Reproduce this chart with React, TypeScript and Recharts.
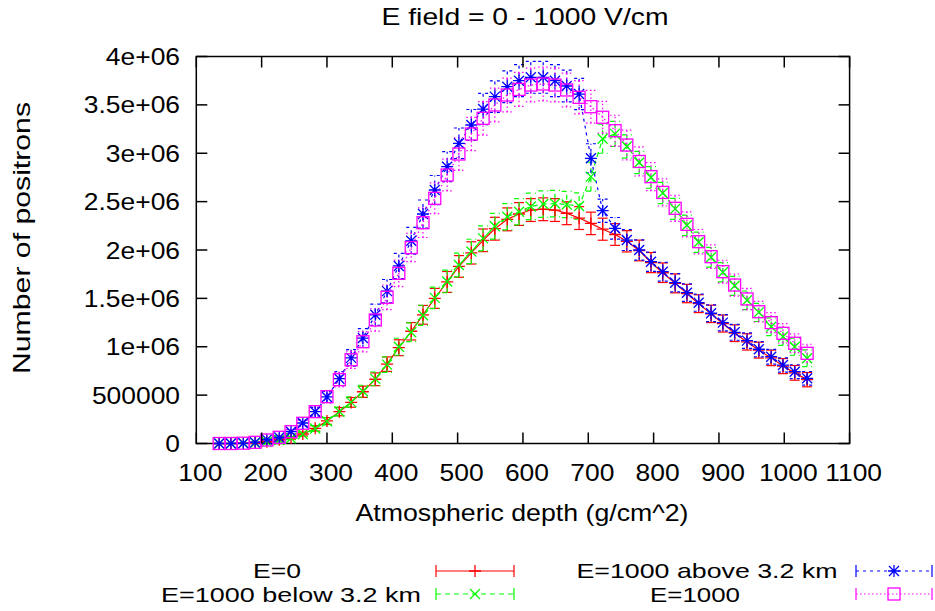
import React from "react";
import { LineChart, Line, XAxis, YAxis, ErrorBar, ReferenceArea } from "recharts";

// ── data ──
const depth = [
  135, 153, 172, 190, 208, 227, 245, 263, 282, 300,
  319, 337, 355, 374, 392, 410, 429, 447, 465, 484,
  502, 521, 539, 557, 576, 594, 612, 631, 649, 667,
  686, 704, 722, 741, 759, 778, 796, 814, 833, 851,
  869, 888, 906, 924, 943, 961, 980, 998, 1016, 1035,
];

const e0 = [
  0, 0, 2000, 6000, 18000, 38000, 58000, 98000, 157000, 233000,
  329000, 425000, 535000, 664000, 820000, 990000, 1160000, 1330000, 1500000, 1670000,
  1830000, 1970000, 2100000, 2220000, 2317000, 2372000, 2413000, 2421000, 2413000, 2380000,
  2330000, 2275000, 2215000, 2160000, 2090000, 1995000, 1870000, 1765000, 1655000, 1550000,
  1445000, 1340000, 1240000, 1140000, 1050000, 965000, 885000, 800000, 730000, 660000,
];
const e0Err = [
  0, 0, 1000, 3000, 6000, 10000, 14000, 20000, 28000, 35000,
  42000, 50000, 58000, 66000, 75000, 82000, 90000, 97000, 103000, 108000,
  112000, 115000, 117000, 118000, 118000, 118000, 118000, 118000, 118000, 118000,
  118000, 116000, 114000, 112000, 110000, 107000, 104000, 101000, 98000, 95000,
  92000, 90000, 88000, 86000, 84000, 82000, 80000, 78000, 76000, 74000,
];

const below = [
  0, 0, 2000, 6000, 17000, 36000, 55000, 95000, 155000, 230000,
  330000, 428000, 540000, 668000, 815000, 1000000, 1150000, 1325000, 1505000, 1675000,
  1845000, 1985000, 2120000, 2245000, 2344000, 2396000, 2450000, 2475000, 2480000, 2470000,
  2455000, 2758000, 3150000, 3200000, 3070000, 2905000, 2750000, 2590000, 2425000, 2255000,
  2080000, 1925000, 1770000, 1630000, 1480000, 1355000, 1207000, 1104000, 1000000, 881000,
];
const belowErr = [
  0, 0, 1000, 3000, 6000, 10000, 15000, 21000, 29000, 37000,
  45000, 53000, 62000, 71000, 80000, 88000, 96000, 104000, 111000, 117000,
  122000, 126000, 130000, 133000, 135000, 136000, 137000, 137000, 137000, 136000,
  135000, 150000, 150000, 130000, 120000, 115000, 112000, 110000, 108000, 106000,
  104000, 102000, 100000, 98000, 96000, 94000, 92000, 90000, 88000, 86000,
];

const above = [
  0, 0, 2000, 12000, 40000, 62000, 122000, 212000, 329000, 481000,
  670000, 885000, 1090000, 1330000, 1575000, 1835000, 2095000, 2372000, 2620000, 2861000,
  3103000, 3292000, 3457000, 3585000, 3688000, 3750000, 3785000, 3785000, 3750000, 3695000,
  3612000, 2948000, 2406000, 2224000, 2103000, 2000000, 1879000, 1776000, 1662000, 1559000,
  1455000, 1346000, 1249000, 1149000, 1063000, 974000, 897000, 811000, 742000, 674000,
];
const aboveErr = [
  0, 0, 2000, 5000, 10000, 15000, 22000, 32000, 45000, 58000,
  72000, 85000, 98000, 110000, 120000, 130000, 138000, 145000, 150000, 155000,
  158000, 160000, 162000, 163000, 164000, 165000, 165000, 165000, 165000, 164000,
  162000, 150000, 120000, 112000, 108000, 104000, 100000, 97000, 94000, 91000,
  88000, 86000, 84000, 82000, 80000, 78000, 76000, 74000, 72000, 70000,
];

const full = [
  0, 0, 3000, 12000, 36000, 64000, 122000, 209000, 329000, 484000,
  660000, 865000, 1052000, 1277000, 1511000, 1759000, 2025000, 2282000, 2534000, 2775000,
  2992000, 3199000, 3361000, 3499000, 3602000, 3660000, 3705000, 3716000, 3705000, 3654000,
  3578000, 3481000, 3372000, 3233000, 3085000, 2915000, 2758000, 2595000, 2431000, 2265000,
  2086000, 1931000, 1776000, 1638000, 1494000, 1362000, 1249000, 1139000, 1036000, 932000,
];
const fullErr = [
  0, 0, 2000, 5000, 10000, 16000, 24000, 34000, 47000, 61000,
  76000, 90000, 104000, 116000, 127000, 137000, 146000, 153000, 159000, 164000,
  168000, 171000, 173000, 174000, 175000, 175000, 175000, 175000, 175000, 174000,
  172000, 169000, 165000, 160000, 155000, 150000, 145000, 140000, 135000, 130000,
  126000, 122000, 118000, 114000, 110000, 106000, 103000, 100000, 97000, 94000,
];

const xTicks = [100, 200, 300, 400, 500, 600, 700, 800, 900, 1000, 1100];
const yTicks = [0, 500000, 1000000, 1500000, 2000000, 2500000, 3000000, 3500000, 4000000];
const yTickLabels = ["0", "500000", "1e+06", "1.5e+06", "2e+06", "2.5e+06", "3e+06", "3.5e+06", "4e+06"];

const data = depth.map((d, i) => ({
  depth: d,
  e0: e0[i], e0Err: e0Err[i],
  below: below[i], belowErr: belowErr[i],
  above: above[i], aboveErr: aboveErr[i],
  full: full[i], fullErr: fullErr[i],
}));

// ── layout ──
const W = 935;
const H = 611;
const PL = 196.3;
const PR = 849.6;
const PT = 56.5;
const PB = 443.5;
const XH = 40;
const TICK = 11;
const FONT = "'Liberation Sans', Arial, Helvetica, sans-serif";

const RED = "#ff0000";
const GREEN = "#00ff00";
const BLUE = "#0000ff";
const MAGENTA = "#ff00ff";

// ── markers ──
const mark = (kind: string, color: string, cx: number, cy: number, key?: any) => {
  const sw = 1.3;
  if (kind === "plus")
    return <path key={key} d={`M${cx - 6},${cy}h12M${cx},${cy - 6}v12`} stroke={color} strokeWidth={sw} fill="none" />;
  if (kind === "cross")
    return <path key={key} d={`M${cx - 5},${cy - 5}l10,10M${cx - 5},${cy + 5}l10,-10`} stroke={color} strokeWidth={sw} fill="none" />;
  if (kind === "star")
    return (
      <path
        key={key}
        d={`M${cx - 6},${cy}h12M${cx},${cy - 6}v12M${cx - 5},${cy - 5}l10,10M${cx - 5},${cy + 5}l10,-10`}
        stroke={color}
        strokeWidth={sw}
        fill="none"
      />
    );
  return <rect key={key} x={cx - 6} y={cy - 6} width={12} height={12} stroke={color} strokeWidth={sw} fill="none" />;
};

const dotFor = (kind: string, color: string) => (p: any) =>
  p.cx == null || p.cy == null ? <g key={p.index} /> : mark(kind, color, p.cx, p.cy, p.index);

// ── ticks: gnuplot style, inward and mirrored ──
const XTick = ({ x, payload }: any) => (
  <g>
    <line x1={x} x2={x} y1={PB} y2={PB - TICK} stroke="#000" strokeWidth={1.5} />
    <line x1={x} x2={x} y1={PT} y2={PT + TICK} stroke="#000" strokeWidth={1.5} />
    <text
      transform={`translate(${x + 4},481) scale(1.1,1)`}
      textAnchor="middle"
      fontSize={24}
      fontFamily={FONT}
      fill="#000"
    >
      {payload.value}
    </text>
  </g>
);

const YTick = ({ y, payload }: any) => (
  <g>
    <line x1={PL} x2={PL + TICK} y1={y} y2={y} stroke="#000" strokeWidth={1.5} />
    <line x1={PR} x2={PR - TICK} y1={y} y2={y} stroke="#000" strokeWidth={1.5} />
    <text
      transform={`translate(180,${y + 8.5}) scale(1.1,1)`}
      textAnchor="end"
      fontSize={24}
      fontFamily={FONT}
      fill="#000"
    >
      {yTickLabels[yTicks.indexOf(payload.value)]}
    </text>
  </g>
);

const legendItems = [
  { label: "E=0", tx: 277, ty: 578, x1: 436, x2: 514, y: 571, color: RED, dash: undefined, kind: "plus" },
  { label: "E=1000 below 3.2 km", tx: 291, ty: 602, x1: 436, x2: 514, y: 594, color: GREEN, dash: "5 4", kind: "cross" },
  { label: "E=1000 above 3.2 km", tx: 707, ty: 578, x1: 856, x2: 932, y: 571, color: BLUE, dash: "3 4", kind: "star" },
  { label: "E=1000", tx: 695, ty: 602, x1: 856, x2: 932, y: 594, color: MAGENTA, dash: "1.5 2.5", kind: "square" },
];
const legendWidths = [48, 260, 261, 90];

export default function App() {
  return (
    <div style={{ position: "fixed", left: 0, top: 0, width: W, height: H, background: "#fff" }}>
      <LineChart
        width={W}
        height={H}
        data={data}
        margin={{ top: PT, right: W - PR, bottom: H - PB - XH, left: 0 }}
      >
        <XAxis
          type="number"
          dataKey="depth"
          domain={[100, 1100]}
          ticks={xTicks}
          interval={0}
          tick={<XTick />}
          tickLine={false}
          axisLine={false}
          height={XH}
        />
        <YAxis
          type="number"
          domain={[0, 4000000]}
          ticks={yTicks}
          interval={0}
          tick={<YTick />}
          tickLine={false}
          axisLine={false}
          width={PL}
        />
        <ReferenceArea x1={100} x2={1100} y1={0} y2={4000000} fill="none" fillOpacity={0} stroke="#000" strokeWidth={1.5} />
        <Line
          dataKey="e0"
          type="linear"
          stroke={RED}
          strokeWidth={1.2}
          dot={dotFor("plus", RED)}
          activeDot={false}
          isAnimationActive={false}
        >
          <ErrorBar dataKey="e0Err" direction="y" width={5} stroke={RED} strokeWidth={1.2} />
        </Line>
        <Line
          dataKey="below"
          type="linear"
          stroke={GREEN}
          strokeWidth={1.2}
          strokeDasharray="5 4"
          dot={dotFor("cross", GREEN)}
          activeDot={false}
          isAnimationActive={false}
        >
          <ErrorBar dataKey="belowErr" direction="y" width={5} stroke={GREEN} strokeWidth={1.2} strokeDasharray="5 4" />
        </Line>
        <Line
          dataKey="above"
          type="linear"
          stroke={BLUE}
          strokeWidth={1.2}
          strokeDasharray="3 4"
          dot={dotFor("star", BLUE)}
          activeDot={false}
          isAnimationActive={false}
        >
          <ErrorBar dataKey="aboveErr" direction="y" width={5} stroke={BLUE} strokeWidth={1.2} strokeDasharray="3 4" />
        </Line>
        <Line
          dataKey="full"
          type="linear"
          stroke={MAGENTA}
          strokeWidth={1.2}
          strokeDasharray="1.5 2.5"
          dot={dotFor("square", MAGENTA)}
          activeDot={false}
          isAnimationActive={false}
        >
          <ErrorBar dataKey="fullErr" direction="y" width={5} stroke={MAGENTA} strokeWidth={1.2} strokeDasharray="1.5 2.5" />
        </Line>
      </LineChart>

      {/* title, axis labels and key */}
      <svg
        width={W}
        height={H}
        style={{ position: "absolute", left: 0, top: 0, pointerEvents: "none" }}
        fontFamily={FONT}
        fontSize={24}
        fill="#000"
      >
        <text x={525} y={25} textAnchor="middle" textLength={287} lengthAdjust="spacingAndGlyphs">
          E field = 0 - 1000 V/cm
        </text>
        <text x={522} y={521} textAnchor="middle" textLength={333} lengthAdjust="spacingAndGlyphs">
          Atmospheric depth (g/cm^2)
        </text>
        <text
          transform="translate(30,238) rotate(-90)"
          textAnchor="middle"
          textLength={272}
          lengthAdjust="spacingAndGlyphs"
        >
          Number of positrons
        </text>
        {legendItems.map((it, i) => (
          <g key={it.label}>
            <text
              x={it.tx}
              y={it.ty}
              fontSize={21}
              textAnchor="middle"
              textLength={legendWidths[i]}
              lengthAdjust="spacingAndGlyphs"
            >
              {it.label}
            </text>
            <line x1={it.x1} x2={it.x2} y1={it.y} y2={it.y} stroke={it.color} strokeWidth={1.2} strokeDasharray={it.dash} />
            <line x1={it.x1} x2={it.x1} y1={it.y - 6} y2={it.y + 6} stroke={it.color} strokeWidth={1.2} />
            <line x1={it.x2} x2={it.x2} y1={it.y - 6} y2={it.y + 6} stroke={it.color} strokeWidth={1.2} />
            {mark(it.kind, it.color, (it.x1 + it.x2) / 2, it.y)}
          </g>
        ))}
      </svg>
    </div>
  );
}
